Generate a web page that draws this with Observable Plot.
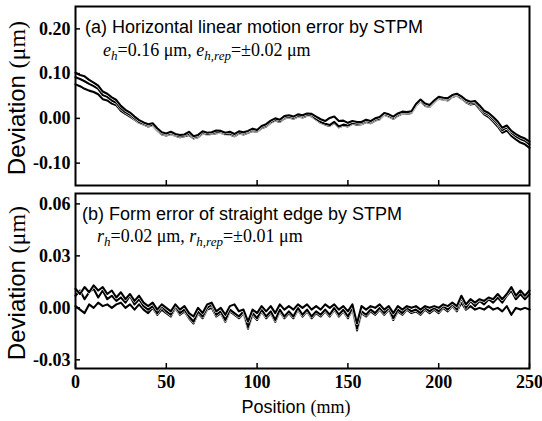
<!DOCTYPE html>
<html><head><meta charset="utf-8">
<script src="https://cdn.jsdelivr.net/npm/d3@7"></script>
<script src="https://cdn.jsdelivr.net/npm/@observablehq/plot@0.6"></script>
<style>
body{margin:0;background:#fff;}
#chart svg{display:block;overflow:visible;}
</style></head><body><div id="chart"></div>
<script>
// Position grid (mm), sampled every 2.5 mm
const positions = d3.range(0, 250.001, 2.5);

// (a) Horizontal linear motion error, three repeated runs (µm)
const motionRun1 = [0.092,0.088,0.083,0.077,0.072,0.066,0.052,0.048,0.040,0.035,
0.022,0.014,0.008,0.000,-0.008,-0.012,-0.016,-0.014,-0.025,-0.034,
-0.036,-0.033,-0.037,-0.040,-0.038,-0.034,-0.043,-0.040,-0.032,-0.035,
-0.033,-0.031,-0.030,-0.035,-0.034,-0.038,-0.032,-0.034,-0.030,-0.026,
-0.028,-0.020,-0.016,-0.008,-0.003,-0.006,0.002,0.004,0.001,0.006,
0.004,0.008,0.007,-0.001,-0.008,-0.012,-0.015,-0.008,-0.018,-0.014,
-0.016,-0.010,-0.012,-0.011,-0.006,-0.009,-0.003,0.000,0.010,0.006,
0.001,0.008,0.013,0.012,0.014,0.030,0.040,0.030,0.028,0.038,
0.046,0.044,0.042,0.050,0.053,0.046,0.038,0.034,0.036,0.025,
0.013,0.008,-0.002,-0.012,-0.026,-0.020,-0.032,-0.040,-0.046,-0.050,
-0.058];
const motionRun2 = [0.102,0.097,0.094,0.086,0.080,0.073,0.060,0.055,0.047,0.041,
0.028,0.019,0.013,0.004,-0.004,-0.009,-0.013,-0.011,-0.022,-0.031,
-0.034,-0.030,-0.035,-0.037,-0.036,-0.030,-0.040,-0.037,-0.029,-0.032,
-0.031,-0.027,-0.028,-0.032,-0.030,-0.035,-0.029,-0.031,-0.028,-0.023,
-0.026,-0.017,-0.013,-0.005,0.000,-0.003,0.005,0.007,0.004,0.009,
0.007,0.011,0.010,0.004,-0.002,-0.006,0.001,0.004,-0.006,-0.005,
-0.010,-0.006,-0.008,-0.008,-0.003,-0.006,0.000,0.003,0.012,0.009,
0.004,0.011,0.015,0.014,0.016,0.032,0.042,0.033,0.030,0.040,
0.048,0.046,0.045,0.052,0.055,0.049,0.041,0.037,0.039,0.029,
0.017,0.012,0.003,-0.007,-0.021,-0.016,-0.028,-0.035,-0.041,-0.045,
-0.052];
const motionRun3 = [0.076,0.072,0.066,0.062,0.059,0.054,0.043,0.040,0.033,0.029,
0.017,0.010,0.004,-0.003,-0.010,-0.014,-0.018,-0.016,-0.027,-0.036,
-0.038,-0.035,-0.039,-0.042,-0.040,-0.037,-0.045,-0.042,-0.034,-0.036,
-0.035,-0.033,-0.032,-0.036,-0.036,-0.040,-0.034,-0.036,-0.032,-0.028,
-0.030,-0.022,-0.018,-0.010,-0.005,-0.008,0.000,0.002,-0.001,0.004,
0.002,0.006,0.005,-0.003,-0.010,-0.014,-0.017,-0.010,-0.020,-0.016,
-0.018,-0.012,-0.014,-0.013,-0.008,-0.011,-0.005,-0.002,0.008,0.004,
-0.001,0.006,0.011,0.010,0.012,0.028,0.038,0.028,0.026,0.036,
0.044,0.042,0.040,0.048,0.051,0.044,0.036,0.031,0.033,0.021,
0.009,0.003,-0.007,-0.018,-0.032,-0.027,-0.039,-0.047,-0.054,-0.058,
-0.066];

// (b) Form error of straight edge, three repeated runs (µm)
const formRun1 = [0.007,0.010,0.005,0.009,0.011,0.006,0.010,0.005,0.007,0.004,
0.006,0.003,0.007,0.002,0.005,0.001,-0.001,0.001,-0.003,0.001,
-0.002,-0.004,0.001,-0.003,-0.001,-0.005,-0.008,-0.002,-0.005,0.000,
0.002,-0.004,-0.002,-0.007,-0.001,-0.003,-0.005,-0.002,-0.011,-0.003,
-0.006,-0.001,-0.005,-0.002,-0.007,-0.001,-0.005,-0.002,-0.005,0.000,
-0.004,-0.001,-0.005,-0.002,-0.004,-0.001,-0.004,0.000,-0.004,-0.001,
-0.005,0.000,-0.012,-0.002,-0.004,-0.001,-0.003,0.000,-0.003,0.000,
-0.006,-0.001,-0.003,0.000,-0.002,-0.001,-0.003,0.000,-0.002,0.000,
-0.002,0.001,-0.001,0.002,-0.001,0.006,0.000,0.004,0.001,0.004,
0.002,0.005,0.003,0.006,0.003,0.007,0.010,0.005,0.008,0.005,
0.008];
const formRun2 = [0.011,0.008,0.012,0.009,0.013,0.010,0.012,0.008,0.010,0.006,
0.009,0.005,0.008,0.004,0.007,0.003,0.001,0.003,-0.001,0.002,
0.000,-0.002,0.002,-0.001,0.001,-0.003,-0.005,0.000,-0.003,0.002,
0.003,-0.002,0.000,-0.004,0.001,0.002,-0.002,-0.001,-0.008,-0.001,
-0.003,0.001,-0.002,0.001,-0.003,0.002,-0.001,0.001,-0.001,0.002,
0.000,0.002,-0.001,0.001,-0.001,0.002,0.000,0.002,-0.001,0.001,
-0.002,0.002,-0.009,0.001,-0.001,0.001,0.000,0.002,-0.001,0.001,
-0.003,0.001,-0.001,0.001,0.000,0.001,-0.001,0.001,0.000,0.001,
0.000,0.002,0.001,0.003,0.001,0.007,0.002,0.005,0.003,0.005,
0.004,0.006,0.005,0.008,0.005,0.008,0.012,0.007,0.010,0.007,
0.010];
const formRun3 = [0.001,-0.001,-0.003,0.002,0.000,0.003,0.001,0.002,0.000,0.002,
0.003,0.000,0.002,-0.001,0.002,-0.001,-0.003,0.000,-0.004,-0.001,
-0.003,-0.005,0.000,-0.004,-0.002,-0.006,-0.009,-0.003,-0.006,-0.001,
0.000,-0.005,-0.003,-0.008,-0.002,-0.004,-0.006,-0.003,-0.012,-0.004,
-0.007,-0.002,-0.006,-0.003,-0.008,-0.002,-0.006,-0.003,-0.006,-0.001,
-0.005,-0.002,-0.006,-0.003,-0.005,-0.002,-0.005,-0.001,-0.005,-0.002,
-0.006,-0.001,-0.013,-0.003,-0.005,-0.002,-0.004,-0.001,-0.004,-0.001,
-0.007,-0.002,-0.004,-0.001,-0.003,-0.002,-0.004,-0.001,-0.003,-0.001,
-0.003,0.000,-0.002,0.001,-0.002,0.003,-0.001,0.001,-0.001,0.000,
-0.001,0.001,-0.001,0.000,-0.002,0.001,-0.004,0.000,-0.001,0.000,
-0.001];

const xTicks = [0, 50, 100, 150, 200, 250];
const xInnerTicks = [50, 100, 150, 200];
const yTicksA = [-0.10, 0.00, 0.10, 0.20];
const yTicksB = [-0.03, 0.00, 0.03, 0.06];
const yDomainA = [-0.15, 0.25];
const yDomainB = [-0.035, 0.066];

const SANS = "'Liberation Sans', Arial, sans-serif";
const SERIF = "'Liberation Serif', 'Times New Roman', serif";

function rows(vals) { return vals.map((v, i) => ({x: positions[i], y: v})); }

function panel({runs, yDomain, yTicks, height, marginTop, marginBottom, bottomAxis}) {
  const marks = [];
  for (const r of runs) {
    const d = rows(r);
    marks.push(Plot.line(d, {x: "x", y: "y", stroke: "white", strokeWidth: 3.2}));
    marks.push(Plot.line(d, {x: "x", y: "y", stroke: "black", strokeWidth: 2.1}));
  }
  marks.push(Plot.axisY(yTicks, {tickSize: -5, tickPadding: 10, strokeWidth: 1.5,
    tickFormat: d => d.toFixed(2), fontFamily: SERIF, fontSize: 18, fontWeight: "bold", label: null}));
  if (bottomAxis) {
    marks.push(Plot.axisX(xTicks, {tickSize: -5, tickPadding: 12, strokeWidth: 1.5,
      tickFormat: d => String(d), fontFamily: SERIF, fontSize: 18, fontWeight: "bold", label: null}));
  } else {
    marks.push(Plot.axisX(xInnerTicks, {tickSize: -5, strokeWidth: 1.5, tickFormat: () => "", label: null}));
  }
  marks.push(Plot.frame({stroke: "black", strokeWidth: 2}));
  return Plot.plot({
    width: 542, height, marginLeft: 75, marginRight: 13, marginTop, marginBottom,
    x: {domain: [0, 250]},
    y: {domain: yDomain},
    style: {fontFamily: SERIF, fontSize: "18px", color: "black", background: "white"},
    marks
  });
}

function addText(svg, x, y, parts, opt = {}) {
  const t = d3.select(svg).append("text").attr("x", x).attr("y", y)
    .attr("fill", "black").attr("text-anchor", opt.anchor || "start");
  if (opt.rotate) t.attr("transform", `rotate(${opt.rotate},${x},${y})`);
  let shift = 0;
  for (const p of parts) {
    const ts = t.append("tspan").text(p.text)
      .attr("font-family", p.font || SERIF).attr("font-size", p.size || 18);
    if (p.italic) ts.attr("font-style", "italic");
    const target = p.sub ? 4 : 0;
    if (target !== shift) { ts.attr("dy", target - shift); shift = target; }
  }
}

const panelA = panel({runs: [motionRun3, motionRun1, motionRun2], yDomain: yDomainA, yTicks: yTicksA,
  height: 189, marginTop: 6, marginBottom: 4, bottomAxis: false});
const panelB = panel({runs: [formRun3, formRun1, formRun2], yDomain: yDomainB, yTicks: yTicksB,
  height: 232, marginTop: 4, marginBottom: 53, bottomAxis: true});

addText(panelA, 85, 33, [{text: "(a) Horizontal linear motion error by STPM", font: SANS, size: 18}]);
addText(panelA, 103, 56, [
  {text: "e", italic: true}, {text: "h", italic: true, sub: true, size: 13},
  {text: "=0.16 μm, "}, {text: "e", italic: true},
  {text: "h,rep", italic: true, sub: true, size: 13}, {text: "=±0.02 μm"}]);
addText(panelA, 25, 98, [{text: "Deviation ", font: SANS, size: 24}, {text: "(μm)", size: 24}],
  {anchor: "middle", rotate: -90});

addText(panelB, 82, 31, [{text: "(b) Form error of straight edge by STPM", font: SANS, size: 18}]);
addText(panelB, 97, 53, [
  {text: "r", italic: true}, {text: "h", italic: true, sub: true, size: 13},
  {text: "=0.02 μm, "}, {text: "r", italic: true},
  {text: "h,rep", italic: true, sub: true, size: 13}, {text: "=±0.01 μm"}]);
addText(panelB, 25, 94, [{text: "Deviation ", font: SANS, size: 24}, {text: "(μm)", size: 24}],
  {anchor: "middle", rotate: -90});
addText(panelB, 296, 224, [{text: "Position ", font: SANS, size: 18}, {text: "(mm)", size: 18}],
  {anchor: "middle"});

document.getElementById("chart").append(panelA, panelB);
</script></body></html>
